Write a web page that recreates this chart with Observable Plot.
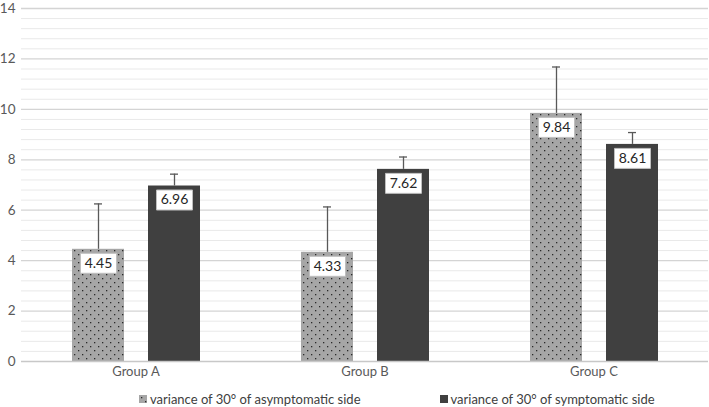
<!DOCTYPE html>
<html>
<head>
<meta charset="utf-8">
<script src="https://cdn.jsdelivr.net/npm/d3@7"></script>
<script src="https://cdn.jsdelivr.net/npm/@observablehq/plot@0.6"></script>
<style>
  html, body { margin: 0; padding: 0; background: #fff; }
  #chart { width: 709px; height: 383px; }
  #legend { width: 709px; height: 31px; box-sizing: border-box; padding-left: 139px; display: flex; justify-content: flex-start; align-items: center; gap: 79px; font: 13px Lato, "Open Sans", sans-serif; color: #404040; }
  .item { display: flex; align-items: center; gap: 3px; }
  .item svg { display: block; }
</style>
</head>
<body>
<div id="chart"></div>
<div id="legend"></div>
<script>
const groups = ["Group A", "Group B", "Group C"];
const seriesNames = ["variance of 30° of asymptomatic side", "variance of 30° of symptomatic side"];
const asymValues = [4.45, 4.33, 9.84];
const symValues = [6.96, 7.62, 8.61];
const asymErrors = [1.80, 1.80, 1.84];
const symErrors = [0.47, 0.49, 0.47];
const yTicks = [0, 2, 4, 6, 8, 10, 12, 14];

const data = [];
groups.forEach((g, i) => {
  data.push({group: g, series: seriesNames[0], value: asymValues[i], err: asymErrors[i]});
  data.push({group: g, series: seriesNames[1], value: symValues[i], err: symErrors[i]});
});

const minorTicks = d3.range(0, 36).map(i => +(i * 0.4).toFixed(1)).filter(v => !yTicks.includes(v));

const labelBox = { draw(ctx) { ctx.rect(-18, -10, 36, 20); } };

const chart = Plot.plot({
  width: 709,
  height: 383,
  marginLeft: 21,
  marginRight: 1,
  marginTop: 8,
  marginBottom: 22,
  style: { fontFamily: "Lato, 'Open Sans', sans-serif", background: "#fff" },
  fx: { domain: groups, padding: 0, label: null, tickSize: 0, tickPadding: 5 },
  x: { domain: seriesNames, axis: null, paddingInner: 0.316, paddingOuter: 0.664 },
  y: { domain: [0, 14], ticks: yTicks, tickSize: 0, tickPadding: 6, label: null, tickFormat: d3.format("d") },
  color: { domain: seriesNames, range: ["url(#dots)", "#404040"] },
  marks: [
    Plot.ruleY(minorTicks, { stroke: "#e9e9e9", strokeWidth: 1 }),
    Plot.ruleY(yTicks.filter(v => v > 0), { stroke: "#d4d4d4", strokeWidth: 1.3 }),
    Plot.barY(data, { fx: "group", x: "series", y: "value", fill: "series" }),
    Plot.ruleY([0], { stroke: "#c8c8c8", strokeWidth: 1.3 }),
    Plot.ruleX(data, { fx: "group", x: "series", y1: "value", y2: d => d.value + d.err, stroke: "#595959", strokeWidth: 1.3 }),
    Plot.tickY(data, { fx: "group", x: "series", y: d => d.value + d.err, stroke: "#595959", strokeWidth: 1.3, insetLeft: 22, insetRight: 22 }),
    Plot.dot(data, { fx: "group", x: "series", y: "value", dy: 14, symbol: labelBox, r: 5, fill: "white", stroke: "#bfbfbf", strokeWidth: 1 }),
    Plot.text(data, { fx: "group", x: "series", y: "value", dy: 14, text: d => d.value.toFixed(2), fontSize: 14, fill: "#262626" })
  ]
});

const ns = "http://www.w3.org/2000/svg";
const defs = document.createElementNS(ns, "defs");
defs.innerHTML = `<pattern id="dots" patternUnits="userSpaceOnUse" width="8" height="8">
  <rect width="8" height="8" fill="#a6a6a6"/>
  <rect x="2" y="2" width="1.3" height="1.3" fill="#2a2a2a"/>
  <rect x="6" y="6" width="1.3" height="1.3" fill="#2a2a2a"/>
</pattern>`;
chart.insertBefore(defs, chart.firstChild);
chart.querySelectorAll("g[aria-label='y-axis tick label'] text, g[aria-label='fx-axis tick label'] text").forEach(t => t.setAttribute("fill", "#595959"));
const yAxis = chart.querySelector("g[aria-label='y-axis tick label']");
if (yAxis) yAxis.setAttribute("font-size", 13.5);
const fxAxis = chart.querySelector("g[aria-label='fx-axis tick label']");
if (fxAxis) fxAxis.setAttribute("font-size", 13);
document.getElementById("chart").appendChild(chart);

const legend = document.getElementById("legend");
const fills = ["url(#dots)", "#404040"];
seriesNames.forEach((name, i) => {
  const item = document.createElement("div");
  item.className = "item";
  item.innerHTML = `<svg width="8" height="8"><rect width="8" height="8" fill="${fills[i]}"/></svg><span>${name}</span>`;
  legend.appendChild(item);
});
</script>
</body>
</html>
